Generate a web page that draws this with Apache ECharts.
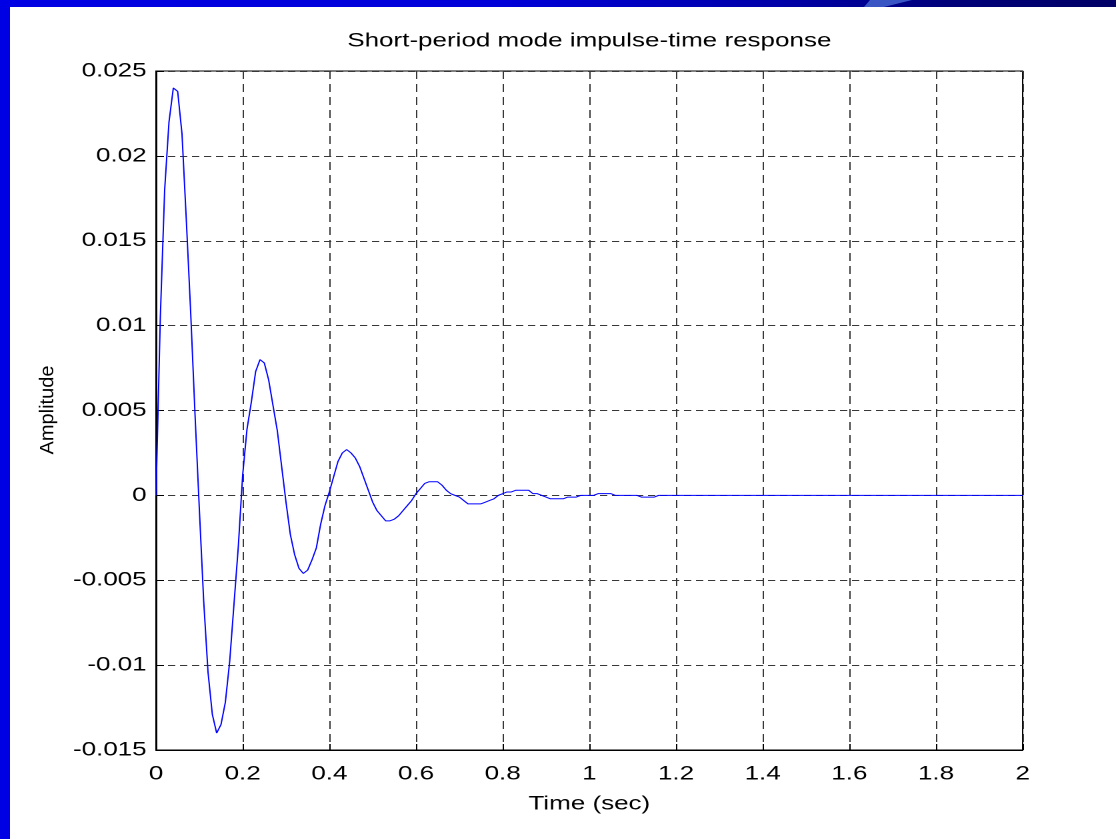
<!DOCTYPE html>
<html>
<head>
<meta charset="utf-8">
<script src="https://cdn.jsdelivr.net/npm/echarts@6/dist/echarts.min.js"></script>
<style>
  html, body { margin: 0; padding: 0; background: #fff; }
  #page { position: relative; width: 1116px; height: 839px; overflow: hidden; background: #fff; }
  #barTop { position: absolute; left: 0; top: 0; width: 1116px; height: 7px;
    background: linear-gradient(to right, #0000e4 0%, #0000d8 45%, #0000a8 70%, #00007a 85%, #000066 100%); }
  #swoosh { position: absolute; left: 0; top: 0; width: 1116px; height: 7px; }
  #barLeft { position: absolute; left: 0; top: 0; width: 10px; height: 839px; background: #0000e4; }
  /* the figure is laid out 4:3 narrower and widened to the page */
  #chart { position: absolute; left: 0; top: 0; width: 837px; height: 839px;
    transform: scaleX(1.3333); transform-origin: 0 0; }
</style>
</head>
<body>
<div id="page">
  <div id="barTop"></div>
  <svg id="swoosh" viewBox="0 0 1116 7"><polygon points="870,0 912,0 884,7 864,7" fill="#3a56c4"/></svg>
  <div id="barLeft"></div>
  <div id="chart"></div>
</div>
<script>
// Short-period mode impulse response, sampled every 0.01 s
const sampleStep = 0.01;
const amplitude = [
  0, 0.0105, 0.0180, 0.0220, 0.0240, 0.0238, 0.0213, 0.0162, 0.0108, 0.0048,
  -0.0008, -0.0062, -0.0104, -0.0129, -0.0140, -0.0135, -0.0122, -0.0098, -0.0064, -0.0030,
  0.0012, 0.0039, 0.0055, 0.0073, 0.0080, 0.0078, 0.0068, 0.0053, 0.0038, 0.0017,
  -0.0004, -0.0023, -0.0035, -0.0043, -0.0046, -0.0044, -0.0038, -0.0031, -0.0017, -0.0006,
  0.0002, 0.0011, 0.0020, 0.0025, 0.0027, 0.0025, 0.0022, 0.0017, 0.0010, 0.0003,
  -0.0004, -0.0009, -0.0012, -0.0015, -0.0015, -0.0014, -0.0012, -0.0009, -0.0006, -0.0003,
  0.0001, 0.0004, 0.0007, 0.0008, 0.0008, 0.0008, 0.0006, 0.0003, 0.0001, 0.0000,
  -0.0001, -0.0003, -0.0005, -0.0005, -0.0005, -0.0005, -0.0004, -0.0003, -0.0002, 0.0000,
  0.0001, 0.0002, 0.0002, 0.0003, 0.0003, 0.0003, 0.0003, 0.0001, 0.0001, 0.0000,
  -0.0001, -0.0002, -0.0002, -0.0002, -0.0002, -0.0001, -0.0001, -0.0001, 0.0000, 0.0000,
  0.0000, 0.0000, 0.0001, 0.0001, 0.0001, 0.0001, 0.0000, 0.0000, 0.0000, 0.0000,
  0.0000, 0.0000, -0.0001, -0.0001, -0.0001, -0.0001, 0.0000, 0.0000, 0.0000, 0.0000,
  0.0000
];
// response has settled; record continues flat to the end time
const endTime = 2.0;
const endValue = 0;

const timeTicks = [0, 2, 0.2];          // min, max, interval (sec)
const ampTicks = [-0.015, 0.025, 0.005]; // min, max, interval

const titleText = 'Short-period mode impulse-time response';
const xName = 'Time (sec)';
const yName = 'Amplitude';

const points = amplitude.map((v, i) => [+(i * sampleStep).toFixed(2), v]);
points.push([endTime, endValue]);

const widen = 1.3333;
const font = 'Liberation Sans, Arial, Helvetica, sans-serif';
const chart = echarts.init(document.getElementById('chart'), null, { devicePixelRatio: 2 });
chart.setOption({
  animation: false,
  title: {
    text: titleText,
    left: 442, top: 31, textAlign: 'center', padding: 0,
    textStyle: { fontFamily: font, fontSize: 19.5, fontWeight: 'normal', color: '#000' }
  },
  grid: {
    left: 117, right: 70, top: 71, bottom: 89,
    show: true, borderColor: '#000', borderWidth: 1, backgroundColor: 'transparent'
  },
  // vertical axis title, pre-narrowed so the page widening leaves it upright-proportioned
  graphic: [{
    type: 'text', x: 36, y: 410, rotation: Math.PI / 2, scaleY: 1 / widen,
    style: { text: yName, font: '20px ' + font, fill: '#000', align: 'center', verticalAlign: 'middle' }
  }],
  xAxis: {
    type: 'value', min: timeTicks[0], max: timeTicks[1], interval: timeTicks[2],
    name: xName, nameLocation: 'middle', nameGap: 44,
    nameTextStyle: { fontFamily: font, fontSize: 19.5, color: '#000' },
    axisLine: { show: true, onZero: false, lineStyle: { color: '#000', width: 1 } },
    axisTick: { show: true, inside: true, length: 6, lineStyle: { color: '#000' } },
    axisLabel: { margin: 14, fontFamily: font, fontSize: 19.5, color: '#000' },
    splitLine: { show: true, lineStyle: { color: '#383838', width: 1, type: [8, 5] } }
  },
  yAxis: {
    type: 'value', min: ampTicks[0], max: ampTicks[1], interval: ampTicks[2],
    axisLine: { show: true, onZero: false, lineStyle: { color: '#000', width: 1 } },
    axisTick: { show: true, inside: true, length: 6, lineStyle: { color: '#000' } },
    axisLabel: { margin: 7, fontFamily: font, fontSize: 19.5, color: '#000' },
    splitLine: { show: true, lineStyle: { color: '#383838', width: 1, type: [5.5, 3.5] } }
  },
  series: [{
    type: 'line', data: points, showSymbol: false, symbol: 'none',
    lineStyle: { color: '#0000ff', width: 1 }, z: 5
  }]
});
</script>
</body>
</html>
